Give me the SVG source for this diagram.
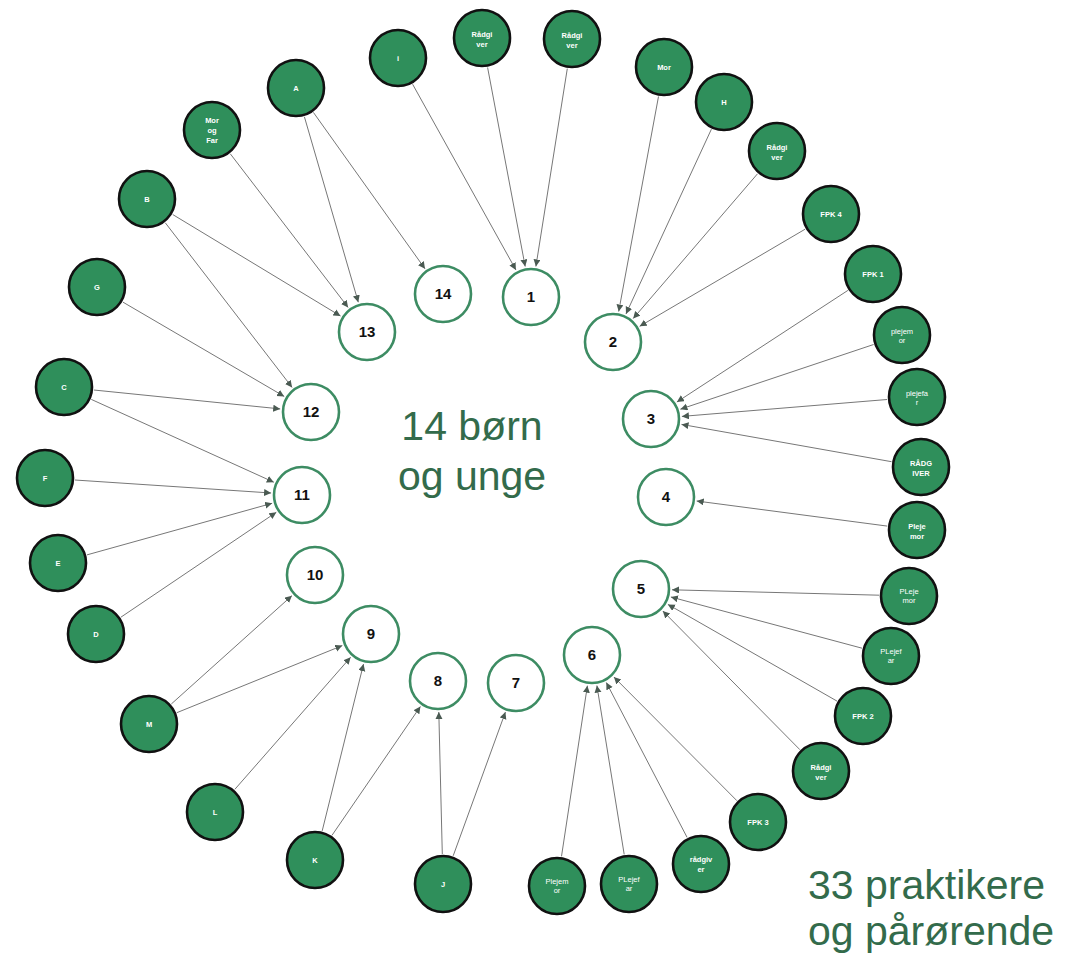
<svg xmlns="http://www.w3.org/2000/svg" width="1080" height="960" viewBox="0 0 1080 960">
<defs>
<style>
.o{fill:#2f8f5b;stroke:#111;stroke-width:2.6}
.in{fill:#fff;stroke:#3d8c63;stroke-width:2.6}
.ot{font-family:"Liberation Sans",Arial,sans-serif;font-size:7.5px;font-weight:bold;fill:#fff;text-anchor:middle}
.lt{font-family:"Liberation Sans",Arial,sans-serif;font-size:7.5px;fill:#fff;text-anchor:middle}
.nt{font-family:"Liberation Sans",Arial,sans-serif;font-size:15px;font-weight:bold;fill:#111;text-anchor:middle}
.big{font-family:"Liberation Sans",Arial,sans-serif;font-size:41px;fill:#336b4b}
.e{stroke:#777;stroke-width:1;fill:none;marker-end:url(#ah)}
</style>
<marker id="ah" markerWidth="8" markerHeight="8" refX="7" refY="3.5" orient="auto" markerUnits="userSpaceOnUse"><path d="M0,0 L7,3.5 L0,7 z" fill="#4a5a52"/></marker>
</defs>
<rect width="1080" height="960" fill="#fff"/>
<g id="connectors">
<line class="e" x1="412.6" y1="84.2" x2="515.9" y2="269.9"/>
<line class="e" x1="487.6" y1="67.5" x2="525.2" y2="266.5"/>
<line class="e" x1="567.3" y1="68.6" x2="535.9" y2="266.4"/>
<line class="e" x1="658.5" y1="96.5" x2="618.7" y2="311.5"/>
<line class="e" x1="711.4" y1="129.2" x2="626.0" y2="313.9"/>
<line class="e" x1="757.5" y1="173.8" x2="633.2" y2="318.5"/>
<line class="e" x1="805.1" y1="229.2" x2="639.7" y2="326.3"/>
<line class="e" x1="847.9" y1="290.4" x2="676.9" y2="402.0"/>
<line class="e" x1="873.6" y1="344.5" x2="680.4" y2="409.2"/>
<line class="e" x1="887.1" y1="399.5" x2="681.9" y2="416.4"/>
<line class="e" x1="891.5" y1="461.7" x2="681.5" y2="424.4"/>
<line class="e" x1="887.3" y1="526.1" x2="696.7" y2="501.0"/>
<line class="e" x1="879.0" y1="595.2" x2="672.0" y2="589.8"/>
<line class="e" x1="862.0" y1="648.2" x2="670.9" y2="597.0"/>
<line class="e" x1="837.0" y1="701.1" x2="667.9" y2="604.4"/>
<line class="e" x1="799.9" y1="749.7" x2="662.8" y2="611.0"/>
<line class="e" x1="736.9" y1="800.7" x2="613.9" y2="677.0"/>
<line class="e" x1="687.1" y1="837.4" x2="606.3" y2="682.5"/>
<line class="e" x1="624.2" y1="854.4" x2="596.9" y2="685.6"/>
<line class="e" x1="561.5" y1="856.3" x2="587.4" y2="685.7"/>
<line class="e" x1="442.3" y1="854.0" x2="438.8" y2="712.0"/>
<line class="e" x1="453.2" y1="855.8" x2="505.4" y2="712.1"/>
<line class="e" x1="322.2" y1="830.9" x2="363.5" y2="664.1"/>
<line class="e" x1="332.0" y1="835.3" x2="420.4" y2="706.5"/>
<line class="e" x1="234.8" y1="789.4" x2="350.6" y2="657.3"/>
<line class="e" x1="171.3" y1="704.0" x2="291.9" y2="595.7"/>
<line class="e" x1="176.8" y1="712.7" x2="342.3" y2="645.6"/>
<line class="e" x1="120.9" y1="617.2" x2="276.3" y2="512.3"/>
<line class="e" x1="86.9" y1="554.9" x2="272.1" y2="503.3"/>
<line class="e" x1="74.9" y1="480.0" x2="271.1" y2="493.0"/>
<line class="e" x1="91.3" y1="399.4" x2="273.8" y2="482.2"/>
<line class="e" x1="93.8" y1="390.0" x2="280.2" y2="408.9"/>
<line class="e" x1="122.9" y1="302.1" x2="284.2" y2="396.4"/>
<line class="e" x1="165.3" y1="222.8" x2="292.1" y2="387.4"/>
<line class="e" x1="172.7" y1="214.5" x2="340.5" y2="316.0"/>
<line class="e" x1="230.3" y1="153.8" x2="348.1" y2="307.4"/>
<line class="e" x1="304.4" y1="116.8" x2="358.3" y2="302.2"/>
<line class="e" x1="313.4" y1="112.4" x2="425.0" y2="268.8"/>
</g>
<g id="n1"><circle class="in" cx="531" cy="297" r="28"/><text class="nt" x="531" y="302">1</text></g>
<g id="n2"><circle class="in" cx="613" cy="342" r="28"/><text class="nt" x="613" y="347">2</text></g>
<g id="n3"><circle class="in" cx="651" cy="419" r="28"/><text class="nt" x="651" y="424">3</text></g>
<g id="n4"><circle class="in" cx="666" cy="497" r="28"/><text class="nt" x="666" y="502">4</text></g>
<g id="n5"><circle class="in" cx="641" cy="589" r="28"/><text class="nt" x="641" y="594">5</text></g>
<g id="n6"><circle class="in" cx="592" cy="655" r="28"/><text class="nt" x="592" y="660">6</text></g>
<g id="n7"><circle class="in" cx="516" cy="683" r="28"/><text class="nt" x="516" y="688">7</text></g>
<g id="n8"><circle class="in" cx="438" cy="681" r="28"/><text class="nt" x="438" y="686">8</text></g>
<g id="n9"><circle class="in" cx="371" cy="634" r="28"/><text class="nt" x="371" y="639">9</text></g>
<g id="n10"><circle class="in" cx="315" cy="575" r="28"/><text class="nt" x="315" y="580">10</text></g>
<g id="n11"><circle class="in" cx="302" cy="495" r="28"/><text class="nt" x="302" y="500">11</text></g>
<g id="n12"><circle class="in" cx="311" cy="412" r="28"/><text class="nt" x="311" y="417">12</text></g>
<g id="n13"><circle class="in" cx="367" cy="332" r="28"/><text class="nt" x="367" y="337">13</text></g>
<g id="n14"><circle class="in" cx="443" cy="294" r="28"/><text class="nt" x="443" y="299">14</text></g>

<g id="o-i"><circle class="o" cx="398" cy="58" r="28"/><text class="ot" x="398" y="61">i</text></g>
<g id="o-r1"><circle class="o" cx="482" cy="38" r="28"/><text class="ot" x="482" y="37">Rådgi</text><text class="ot" x="482" y="47">ver</text></g>
<g id="o-r2"><circle class="o" cx="572" cy="39" r="28"/><text class="ot" x="572" y="38">Rådgi</text><text class="ot" x="572" y="48">ver</text></g>
<g id="o-mor"><circle class="o" cx="664" cy="67" r="28"/><text class="ot" x="664" y="70">Mor</text></g>
<g id="o-h"><circle class="o" cx="724" cy="102" r="28"/><text class="ot" x="724" y="105">H</text></g>
<g id="o-r3"><circle class="o" cx="777" cy="151" r="28"/><text class="ot" x="777" y="150">Rådgi</text><text class="ot" x="777" y="160">ver</text></g>
<g id="o-fpk4"><circle class="o" cx="831" cy="214" r="28"/><text class="ot" x="831" y="217">FPK 4</text></g>
<g id="o-fpk1"><circle class="o" cx="873" cy="274" r="28"/><text class="ot" x="873" y="277">FPK 1</text></g>
<g id="o-pm1"><circle class="o" cx="902" cy="335" r="28"/><text class="lt" x="902" y="334">plejem</text><text class="lt" x="902" y="343">or</text></g>
<g id="o-pf1"><circle class="o" cx="917" cy="397" r="28"/><text class="lt" x="917" y="396">plejefa</text><text class="lt" x="917" y="405">r</text></g>
<g id="o-rad"><circle class="o" cx="921" cy="467" r="28"/><text class="ot" x="921" y="466">RÅDG</text><text class="ot" x="921" y="476">IVER</text></g>
<g id="o-pm2"><circle class="o" cx="917" cy="530" r="28"/><text class="ot" x="917" y="529">Pleje</text><text class="ot" x="917" y="539">mor</text></g>
<g id="o-pm3"><circle class="o" cx="909" cy="596" r="28"/><text class="lt" x="909" y="594">PLeje</text><text class="lt" x="909" y="603">mor</text></g>
<g id="o-pf2"><circle class="o" cx="891" cy="656" r="28"/><text class="lt" x="891" y="654">PLejef</text><text class="lt" x="891" y="663">ar</text></g>
<g id="o-fpk2"><circle class="o" cx="863" cy="716" r="28"/><text class="ot" x="863" y="719">FPK 2</text></g>
<g id="o-r4"><circle class="o" cx="821" cy="771" r="28"/><text class="ot" x="821" y="770">Rådgi</text><text class="ot" x="821" y="780">ver</text></g>
<g id="o-fpk3"><circle class="o" cx="758" cy="822" r="28"/><text class="ot" x="758" y="825">FPK 3</text></g>
<g id="o-rg"><circle class="o" cx="701" cy="864" r="28"/><text class="ot" x="701" y="862">rådgiv</text><text class="ot" x="701" y="872">er</text></g>
<g id="o-pf3"><circle class="o" cx="629" cy="884" r="28"/><text class="lt" x="629" y="882">PLejef</text><text class="lt" x="629" y="891">ar</text></g>
<g id="o-pm4"><circle class="o" cx="557" cy="886" r="28"/><text class="lt" x="557" y="884">Plejem</text><text class="lt" x="557" y="893">or</text></g>
<g id="o-j"><circle class="o" cx="443" cy="884" r="28"/><text class="ot" x="443" y="887">J</text></g>
<g id="o-k"><circle class="o" cx="315" cy="860" r="28"/><text class="ot" x="315" y="863">K</text></g>
<g id="o-l"><circle class="o" cx="215" cy="812" r="28"/><text class="ot" x="215" y="815">L</text></g>
<g id="o-m"><circle class="o" cx="149" cy="724" r="28"/><text class="ot" x="149" y="727">M</text></g>
<g id="o-d"><circle class="o" cx="96" cy="634" r="28"/><text class="ot" x="96" y="637">D</text></g>
<g id="o-e"><circle class="o" cx="58" cy="563" r="28"/><text class="ot" x="58" y="566">E</text></g>
<g id="o-f"><circle class="o" cx="45" cy="478" r="28"/><text class="ot" x="45" y="481">F</text></g>
<g id="o-c"><circle class="o" cx="64" cy="387" r="28"/><text class="ot" x="64" y="390">C</text></g>
<g id="o-g"><circle class="o" cx="97" cy="287" r="28"/><text class="ot" x="97" y="290">G</text></g>
<g id="o-b"><circle class="o" cx="147" cy="199" r="28"/><text class="ot" x="147" y="202">B</text></g>
<g id="o-mf"><circle class="o" cx="212" cy="130" r="28"/><text class="ot" x="212" y="123">Mor</text><text class="ot" x="212" y="133">og</text><text class="ot" x="212" y="143">Far</text></g>
<g id="o-a"><circle class="o" cx="296" cy="88" r="28"/><text class="ot" x="296" y="91">A</text></g>

<g id="title-center"><text class="big" x="472" y="440" text-anchor="middle">14 børn</text><text class="big" x="472" y="490" text-anchor="middle">og unge</text></g>
<g id="title-corner"><text class="big" x="808" y="899" font-size="40">33 praktikere</text><text class="big" x="808" y="945" font-size="40">og pårørende</text></g>
</svg>
